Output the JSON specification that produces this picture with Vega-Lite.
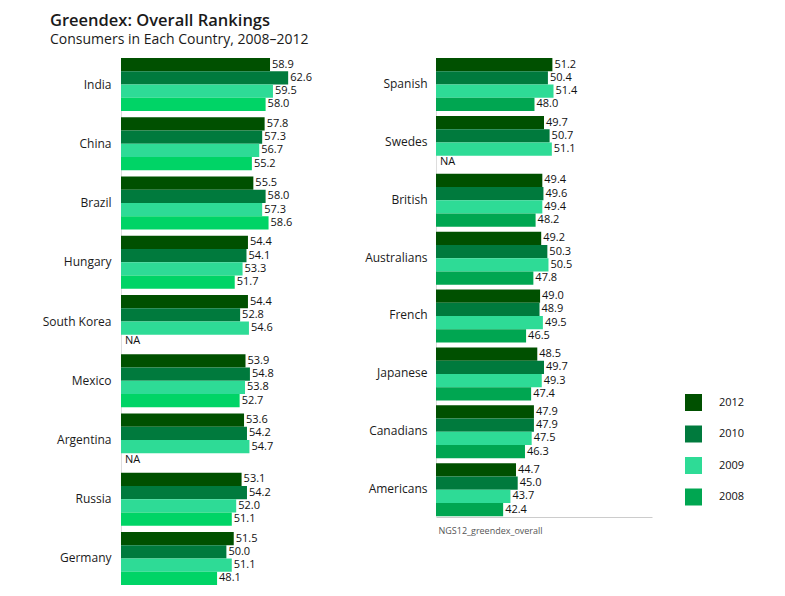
{
  "$schema": "https://vega.github.io/schema/vega-lite/v6.json",
  "padding": {"left": 0, "top": 12, "right": 0, "bottom": 0},
  "background": "white",
  "config": {
    "font": "Open Sans",
    "view": {"stroke": null},
    "axis": {"labelFont": "Open Sans", "titleFont": "Open Sans"},
    "legend": {"labelFont": "Open Sans"}
  },
  "title": {
    "text": "Greendex: Overall Rankings",
    "subtitle": "Consumers in Each Country, 2008–2012",
    "anchor": "start",
    "frame": "bounds",
    "dx": 50,
    "fontSize": 16.5,
    "fontWeight": 600,
    "color": "#1a1a1a",
    "subtitleFontSize": 14,
    "subtitleColor": "#1a1a1a",
    "subtitlePadding": 4,
    "offset": 11
  },
  "data": {
    "values": [
      {"panel": "L", "country": "India", "year": "2012", "value": 58.9},
      {"panel": "L", "country": "India", "year": "2010", "value": 62.6},
      {"panel": "L", "country": "India", "year": "2009", "value": 59.5},
      {"panel": "L", "country": "India", "year": "2008", "value": 58.0},
      {"panel": "L", "country": "China", "year": "2012", "value": 57.8},
      {"panel": "L", "country": "China", "year": "2010", "value": 57.3},
      {"panel": "L", "country": "China", "year": "2009", "value": 56.7},
      {"panel": "L", "country": "China", "year": "2008", "value": 55.2},
      {"panel": "L", "country": "Brazil", "year": "2012", "value": 55.5},
      {"panel": "L", "country": "Brazil", "year": "2010", "value": 58.0},
      {"panel": "L", "country": "Brazil", "year": "2009", "value": 57.3},
      {"panel": "L", "country": "Brazil", "year": "2008", "value": 58.6},
      {"panel": "L", "country": "Hungary", "year": "2012", "value": 54.4},
      {"panel": "L", "country": "Hungary", "year": "2010", "value": 54.1},
      {"panel": "L", "country": "Hungary", "year": "2009", "value": 53.3},
      {"panel": "L", "country": "Hungary", "year": "2008", "value": 51.7},
      {"panel": "L", "country": "South Korea", "year": "2012", "value": 54.4},
      {"panel": "L", "country": "South Korea", "year": "2010", "value": 52.8},
      {"panel": "L", "country": "South Korea", "year": "2009", "value": 54.6},
      {"panel": "L", "country": "South Korea", "year": "2008", "value": null},
      {"panel": "L", "country": "Mexico", "year": "2012", "value": 53.9},
      {"panel": "L", "country": "Mexico", "year": "2010", "value": 54.8},
      {"panel": "L", "country": "Mexico", "year": "2009", "value": 53.8},
      {"panel": "L", "country": "Mexico", "year": "2008", "value": 52.7},
      {"panel": "L", "country": "Argentina", "year": "2012", "value": 53.6},
      {"panel": "L", "country": "Argentina", "year": "2010", "value": 54.2},
      {"panel": "L", "country": "Argentina", "year": "2009", "value": 54.7},
      {"panel": "L", "country": "Argentina", "year": "2008", "value": null},
      {"panel": "L", "country": "Russia", "year": "2012", "value": 53.1},
      {"panel": "L", "country": "Russia", "year": "2010", "value": 54.2},
      {"panel": "L", "country": "Russia", "year": "2009", "value": 52.0},
      {"panel": "L", "country": "Russia", "year": "2008", "value": 51.1},
      {"panel": "L", "country": "Germany", "year": "2012", "value": 51.5},
      {"panel": "L", "country": "Germany", "year": "2010", "value": 50.0},
      {"panel": "L", "country": "Germany", "year": "2009", "value": 51.1},
      {"panel": "L", "country": "Germany", "year": "2008", "value": 48.1},
      {"panel": "R", "country": "Spanish", "year": "2012", "value": 51.2},
      {"panel": "R", "country": "Spanish", "year": "2010", "value": 50.4},
      {"panel": "R", "country": "Spanish", "year": "2009", "value": 51.4},
      {"panel": "R", "country": "Spanish", "year": "2008", "value": 48.0},
      {"panel": "R", "country": "Swedes", "year": "2012", "value": 49.7},
      {"panel": "R", "country": "Swedes", "year": "2010", "value": 50.7},
      {"panel": "R", "country": "Swedes", "year": "2009", "value": 51.1},
      {"panel": "R", "country": "Swedes", "year": "2008", "value": null},
      {"panel": "R", "country": "British", "year": "2012", "value": 49.4},
      {"panel": "R", "country": "British", "year": "2010", "value": 49.6},
      {"panel": "R", "country": "British", "year": "2009", "value": 49.4},
      {"panel": "R", "country": "British", "year": "2008", "value": 48.2},
      {"panel": "R", "country": "Australians", "year": "2012", "value": 49.2},
      {"panel": "R", "country": "Australians", "year": "2010", "value": 50.3},
      {"panel": "R", "country": "Australians", "year": "2009", "value": 50.5},
      {"panel": "R", "country": "Australians", "year": "2008", "value": 47.8},
      {"panel": "R", "country": "French", "year": "2012", "value": 49.0},
      {"panel": "R", "country": "French", "year": "2010", "value": 48.9},
      {"panel": "R", "country": "French", "year": "2009", "value": 49.5},
      {"panel": "R", "country": "French", "year": "2008", "value": 46.5},
      {"panel": "R", "country": "Japanese", "year": "2012", "value": 48.5},
      {"panel": "R", "country": "Japanese", "year": "2010", "value": 49.7},
      {"panel": "R", "country": "Japanese", "year": "2009", "value": 49.3},
      {"panel": "R", "country": "Japanese", "year": "2008", "value": 47.4},
      {"panel": "R", "country": "Canadians", "year": "2012", "value": 47.9},
      {"panel": "R", "country": "Canadians", "year": "2010", "value": 47.9},
      {"panel": "R", "country": "Canadians", "year": "2009", "value": 47.5},
      {"panel": "R", "country": "Canadians", "year": "2008", "value": 46.3},
      {"panel": "R", "country": "Americans", "year": "2012", "value": 44.7},
      {"panel": "R", "country": "Americans", "year": "2010", "value": 45.0},
      {"panel": "R", "country": "Americans", "year": "2009", "value": 43.7},
      {"panel": "R", "country": "Americans", "year": "2008", "value": 42.4}
    ]
  },
  "spacing": 35,
  "resolve": {"scale": {"color": "independent"}},
  "hconcat": [
    {
      "width": 200,
      "height": 527,
      "transform": [{"filter": "datum.panel === 'L'"}],
      "resolve": {"scale": {"x": "shared", "y": "shared", "yOffset": "shared"}},
      "encoding": {
        "y": {
          "field": "country", "type": "nominal", "sort": null,
          "scale": {"paddingInner": 0.105, "paddingOuter": 0},
          "axis": {"title": null, "ticks": false, "labelPadding": 10, "labelFontSize": 12, "labelColor": "#1a1a1a", "domainColor": "#dddddd", "minExtent": 121, "maxExtent": 121}
        },
        "yOffset": {"field": "year", "type": "nominal", "scale": {"domain": ["2012", "2010", "2009", "2008"], "paddingInner": 0, "paddingOuter": 0}}
      },
      "layer": [
        {
          "mark": {"type": "bar"},
          "encoding": {
            "x": {"field": "value", "type": "quantitative", "scale": {"domain": [28.5, 69.3], "zero": false, "nice": false}, "axis": null},
            "x2": {"datum": 28.5},
            "color": {"field": "year", "type": "nominal", "scale": {"domain": ["2012", "2010", "2009", "2008"], "range": ["#005000", "#007A3D", "#2EDB96", "#00D466"]}, "legend": null}
          }
        },
        {
          "transform": [{"filter": "isValid(datum.value)"}],
          "mark": {"type": "text", "align": "left", "baseline": "middle", "dx": 2, "fontSize": 11, "color": "#111111"},
          "encoding": {
            "x": {"field": "value", "type": "quantitative"},
            "text": {"field": "value", "type": "quantitative", "format": ".1f"}
          }
        },
        {
          "transform": [{"filter": "!isValid(datum.value)"}],
          "mark": {"type": "text", "align": "left", "baseline": "middle", "dx": 4, "fontSize": 11, "color": "#111111", "text": "NA"},
          "encoding": {
            "x": {"datum": 28.5, "type": "quantitative"}
          }
        }
      ]
    },
    {
      "width": 216,
      "height": 457,
      "transform": [{"filter": "datum.panel === 'R'"}],
      "resolve": {"scale": {"x": "shared", "y": "shared", "yOffset": "shared"}},
      "encoding": {
        "y": {
          "field": "country", "type": "nominal", "sort": null,
          "scale": {"paddingInner": 0.104, "paddingOuter": 0},
          "axis": {"title": null, "ticks": false, "labelPadding": 9, "labelFontSize": 12, "labelColor": "#1a1a1a", "domainColor": "#dddddd", "minExtent": 80, "maxExtent": 80}
        },
        "yOffset": {"field": "year", "type": "nominal", "scale": {"domain": ["2012", "2010", "2009", "2008"], "paddingInner": 0, "paddingOuter": 0}}
      },
      "layer": [
        {
          "mark": {"type": "bar"},
          "encoding": {
            "x": {
              "field": "value", "type": "quantitative",
              "scale": {"domain": [30.4, 69], "zero": false, "nice": false},
              "axis": {"title": "NGS12_greendex_overall", "titleAnchor": "start", "titleFontSize": 9, "titleFontWeight": "normal", "titleColor": "#555555", "titlePadding": 9, "titleX": 2, "labels": false, "ticks": false, "grid": false, "domainColor": "#cccccc", "offset": 2}
            },
            "x2": {"datum": 30.4},
            "color": {
              "field": "year", "type": "nominal",
              "scale": {"domain": ["2012", "2010", "2009", "2008"], "range": ["#005000", "#007A3D", "#2EDB96", "#00A651"]},
              "legend": {"title": null, "orient": "none", "legendX": 249, "legendY": 336, "symbolType": "square", "symbolSize": 289, "symbolStrokeWidth": 0, "labelFontSize": 11, "labelColor": "#111111", "labelOffset": 17, "rowPadding": 14.5}
            }
          }
        },
        {
          "transform": [{"filter": "isValid(datum.value)"}],
          "mark": {"type": "text", "align": "left", "baseline": "middle", "dx": 2, "fontSize": 11, "color": "#111111"},
          "encoding": {
            "x": {"field": "value", "type": "quantitative"},
            "text": {"field": "value", "type": "quantitative", "format": ".1f"}
          }
        },
        {
          "transform": [{"filter": "!isValid(datum.value)"}],
          "mark": {"type": "text", "align": "left", "baseline": "middle", "dx": 4, "fontSize": 11, "color": "#111111", "text": "NA"},
          "encoding": {
            "x": {"datum": 30.4, "type": "quantitative"}
          }
        }
      ]
    }
  ]
}
